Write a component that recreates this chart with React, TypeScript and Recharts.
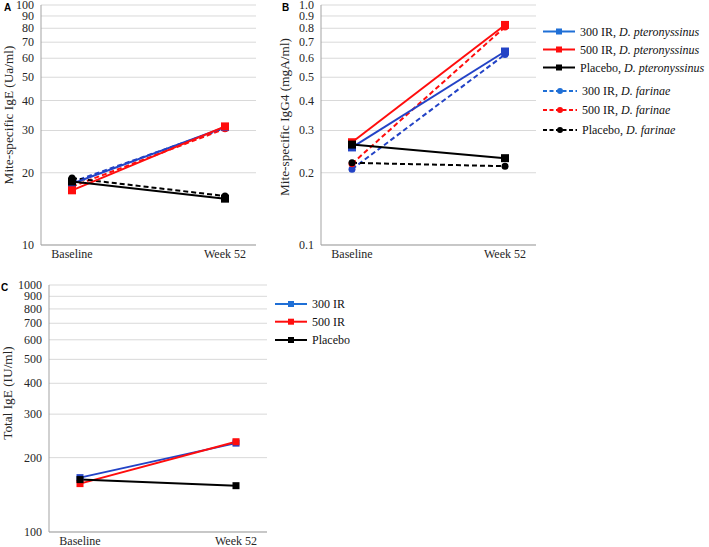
import React from "react";
import { LineChart, Line, XAxis, YAxis, CartesianGrid, Legend } from "recharts";

const categories = ["Baseline", "Week 52"];

// A: mite-specific IgE (Ua/ml)
const igeDpt300 = [18.0, 31.0];
const igeDpt500 = [16.9, 31.2];
const igeDptPlacebo = [18.4, 15.6];
const igeDf300 = [18.3, 30.7];
const igeDf500 = [17.5, 30.5];
const igeDfPlacebo = [19.0, 16.0];
const igeTicks = [10, 20, 30, 40, 50, 60, 70, 80, 90, 100];

// B: mite-specific IgG4 (mgA/ml)
const igg4Dpt300 = [0.255, 0.64];
const igg4Dpt500 = [0.268, 0.826];
const igg4DptPlacebo = [0.262, 0.23];
const igg4Df300 = [0.207, 0.622];
const igg4Df500 = [0.218, 0.81];
const igg4DfPlacebo = [0.22, 0.213];
const igg4Ticks = [0.1, 0.2, 0.3, 0.4, 0.5, 0.6, 0.7, 0.8, 0.9, 1.0];

// C: total IgE (IU/ml)
const totalIge300 = [166, 229];
const totalIge500 = [157, 232];
const totalIgePlacebo = [163, 154];
const totalIgeTicks = [100, 200, 300, 400, 500, 600, 700, 800, 900, 1000];

const BLUE = "#2343c6";
const BLUE_LEGEND = "#1f6fd6";
const RED = "#ff0d0d";
const BLACK = "#000000";
const AXIS = "#a3a3a3";
const GRID = "#d9d9d9";
const TEXT = "#262626";
const SERIF = "'Liberation Serif', 'Times New Roman', serif";
const SANS = "'Liberation Sans', Arial, sans-serif";

// the chart text kept coming out sans, so pin the face with an id-level rule
const css = `
#fig svg text, #fig svg tspan { font-family: ${SERIF} !important; }
#fig svg text.panel-letter { font-family: ${SANS} !important; }
`;

type Series = {
  key: string;
  group: string;
  species?: string;
  color: string;
  legendColor?: string;
  dashed: boolean;
  values: number[];
};

const seriesA: Series[] = [
  { key: "dpt300", group: "300 IR", species: "D. pteronyssinus", color: BLUE, legendColor: BLUE_LEGEND, dashed: false, values: igeDpt300 },
  { key: "dpt500", group: "500 IR", species: "D. pteronyssinus", color: RED, dashed: false, values: igeDpt500 },
  { key: "dptPla", group: "Placebo", species: "D. pteronyssinus", color: BLACK, dashed: false, values: igeDptPlacebo },
  { key: "df300", group: "300 IR", species: "D. farinae", color: BLUE, legendColor: BLUE_LEGEND, dashed: true, values: igeDf300 },
  { key: "df500", group: "500 IR", species: "D. farinae", color: RED, dashed: true, values: igeDf500 },
  { key: "dfPla", group: "Placebo", species: "D. farinae", color: BLACK, dashed: true, values: igeDfPlacebo },
];

const seriesB: Series[] = [
  { key: "dpt300", group: "300 IR", species: "D. pteronyssinus", color: BLUE, legendColor: BLUE_LEGEND, dashed: false, values: igg4Dpt300 },
  { key: "dpt500", group: "500 IR", species: "D. pteronyssinus", color: RED, dashed: false, values: igg4Dpt500 },
  { key: "dptPla", group: "Placebo", species: "D. pteronyssinus", color: BLACK, dashed: false, values: igg4DptPlacebo },
  { key: "df300", group: "300 IR", species: "D. farinae", color: BLUE, legendColor: BLUE_LEGEND, dashed: true, values: igg4Df300 },
  { key: "df500", group: "500 IR", species: "D. farinae", color: RED, dashed: true, values: igg4Df500 },
  { key: "dfPla", group: "Placebo", species: "D. farinae", color: BLACK, dashed: true, values: igg4DfPlacebo },
];

const seriesC: Series[] = [
  { key: "t300", group: "300 IR", color: BLUE, legendColor: BLUE_LEGEND, dashed: false, values: totalIge300 },
  { key: "t500", group: "500 IR", color: RED, dashed: false, values: totalIge500 },
  { key: "tPla", group: "Placebo", color: BLACK, dashed: false, values: totalIgePlacebo },
];

function makeRows(series: Series[]) {
  return categories.map((name, i) => {
    const row: Record<string, string | number> = { name };
    series.forEach((s) => {
      row[s.key] = s.values[i];
    });
    return row;
  });
}

const serifText = { fontFamily: SERIF, fontSize: 12, fill: TEXT };

function XTick(p: any) {
  return (
    <text x={p.x} y={p.y} dy="0.71em" textAnchor="middle" style={serifText}>
      {p.payload.value}
    </text>
  );
}

function makeYTick(fmt: (v: number) => string) {
  return (p: any) => (
    <text x={p.x} y={p.y} dominantBaseline="central" textAnchor="end" style={serifText}>
      {fmt(p.payload.value)}
    </text>
  );
}

function marker(s: Series, size: number) {
  return (p: any) => {
    const k = `${s.key}-${p.index}`;
    if (p.cx == null || p.cy == null) return <g key={k} />;
    if (s.dashed) {
      return <circle key={k} cx={p.cx} cy={p.cy} r={size / 2 - 0.5} fill={s.color} />;
    }
    return <rect key={k} x={p.cx - size / 2} y={p.cy - size / 2} width={size} height={size} fill={s.color} />;
  };
}

function legendContent(series: Series[], rowsY: number[], w: number, h: number) {
  return ({ payload }: any) => {
    const keys: string[] = (payload ?? []).map((p: any) => p.dataKey);
    const items = keys.length ? series.filter((s) => keys.includes(s.key)) : series;
    return (
      <svg width={w} height={h} style={{ display: "block", overflow: "visible" }}>
        {items.map((s, i) => {
          const y = rowsY[i];
          const c = s.legendColor ?? s.color;
          const len = s.dashed ? 34 : 32;
          return (
            <g key={s.key}>
              <line x1={0} x2={len} y1={y} y2={y} stroke={c} strokeWidth={2} strokeDasharray={s.dashed ? "4 2.5" : undefined} />
              {s.dashed ? (
                <circle cx={len / 2} cy={y} r={3} fill={c} />
              ) : (
                <rect x={len / 2 - 3} y={y - 3} width={6} height={6} fill={c} />
              )}
              <text x={len + 5} y={y} dominantBaseline="central" style={{ ...serifText, fill: "#111" }}>
                <tspan>{s.species ? `${s.group}, ` : s.group}</tspan>
                {s.species && <tspan style={{ fontStyle: "italic" }}>{s.species}</tspan>}
              </text>
            </g>
          );
        })}
      </svg>
    );
  };
}

type PanelProps = {
  series: Series[];
  ticks: number[];
  fmt: (v: number) => string;
  left: number;
  top: number;
  width: number;
  height: number;
  margin: { top: number; right: number; bottom: number; left: number };
  yWidth: number;
  xHeight: number;
  pad: number;
  marker: number;
  legend?: { left: number; top: number; w: number; h: number; rows: number[] };
};

function Panel(props: PanelProps) {
  const { series, ticks, fmt, margin, yWidth, xHeight, pad, legend } = props;
  const data = makeRows(series);
  const drawOrder = [...series.filter((s) => s.dashed), ...series.filter((s) => !s.dashed)];
  return (
    <div style={{ position: "absolute", left: props.left, top: props.top }}>
      <LineChart width={props.width} height={props.height} data={data} margin={margin}>
        <CartesianGrid vertical={false} stroke={GRID} strokeWidth={1} />
        <XAxis
          dataKey="name"
          type="category"
          scale="point"
          padding={{ left: pad, right: pad }}
          height={xHeight}
          axisLine={{ stroke: AXIS }}
          tickLine={false}
          tickSize={2}
          tickMargin={2}
          tick={<XTick />}
          interval={0}
        />
        <XAxis
          xAxisId="top"
          orientation="top"
          dataKey="name"
          type="category"
          scale="point"
          height={0}
          axisLine={{ stroke: AXIS }}
          tickLine={false}
          tick={false}
        />
        <YAxis
          type="number"
          scale="log"
          domain={[ticks[0], ticks[ticks.length - 1]]}
          allowDataOverflow
          ticks={ticks}
          interval={0}
          width={yWidth}
          axisLine={{ stroke: AXIS }}
          tickLine={false}
          tickSize={4}
          tickMargin={3}
          tick={makeYTick(fmt)}
        />
        <YAxis
          yAxisId="right"
          orientation="right"
          width={0}
          domain={[0, 1]}
          axisLine={{ stroke: AXIS }}
          tickLine={false}
          tick={false}
        />
        {drawOrder.map((s) => (
          <Line
            key={s.key}
            dataKey={s.key}
            name={s.species ? `${s.group}, ${s.species}` : s.group}
            type="linear"
            stroke={s.color}
            strokeWidth={2}
            strokeDasharray={s.dashed ? "5 3" : undefined}
            dot={marker(s, props.marker)}
            activeDot={false}
            isAnimationActive={false}
          />
        ))}
        {legend && (
          <Legend
            layout="horizontal"
            align="center"
            verticalAlign="middle"
            content={legendContent(series, legend.rows, legend.w, legend.h)}
            wrapperStyle={{ left: legend.left, top: legend.top, width: legend.w, height: legend.h }}
          />
        )}
      </LineChart>
    </div>
  );
}

const titleStyle = { fontSize: 13.3, fill: TEXT, fontFamily: SERIF };
const letterStyle = { fontSize: 10, fontWeight: 700, fill: "#000", fontFamily: SANS };

export default function App() {
  return (
    <div id="fig" style={{ position: "absolute", left: 0, top: 0, width: 709, height: 547, background: "#fff", overflow: "hidden" }}>
      <style>{css}</style>
      <Panel
        series={seriesA}
        ticks={igeTicks}
        fmt={(v) => String(v)}
        left={0}
        top={1}
        width={270}
        height={274}
        margin={{ top: 4, right: 14, bottom: 9, left: 0 }}
        yWidth={41}
        xHeight={21}
        pad={31}
        marker={8}
      />
      <Panel
        series={seriesB}
        ticks={igg4Ticks}
        fmt={(v) => v.toFixed(1)}
        left={270}
        top={1}
        width={439}
        height={274}
        margin={{ top: 4, right: 173, bottom: 9, left: 0 }}
        yWidth={51}
        xHeight={21}
        pad={31}
        marker={8}
        legend={{ left: 273, top: 21, w: 166, h: 120, rows: [9.5, 27.5, 45.5, 69, 88, 108] }}
      />
      <Panel
        series={seriesC}
        ticks={totalIgeTicks}
        fmt={(v) => String(v)}
        left={0}
        top={280}
        width={709}
        height={267}
        margin={{ top: 5, right: 442, bottom: 1, left: 0 }}
        yWidth={49}
        xHeight={14}
        pad={31}
        marker={7}
        legend={{ left: 275, top: 16, w: 120, h: 60, rows: [8, 25.7, 44] }}
      />
      <svg width={709} height={547} style={{ position: "absolute", left: 0, top: 0, pointerEvents: "none" }}>
        <text className="panel-letter" x={4} y={11} style={letterStyle}>A</text>
        <text className="panel-letter" x={282} y={11} style={letterStyle}>B</text>
        <text className="panel-letter" x={1} y={291} style={letterStyle}>C</text>
        <text transform="translate(8,115) rotate(-90)" textAnchor="middle" dominantBaseline="central" style={titleStyle}>
          Mite-specific IgE (Ua/ml)
        </text>
        <text transform="translate(284,117) rotate(-90)" textAnchor="middle" dominantBaseline="central" style={titleStyle}>
          Mite-specific IgG4 (mgA/ml)
        </text>
        <text transform="translate(7,393) rotate(-90)" textAnchor="middle" dominantBaseline="central" style={titleStyle}>
          Total IgE (IU/ml)
        </text>
      </svg>
    </div>
  );
}
